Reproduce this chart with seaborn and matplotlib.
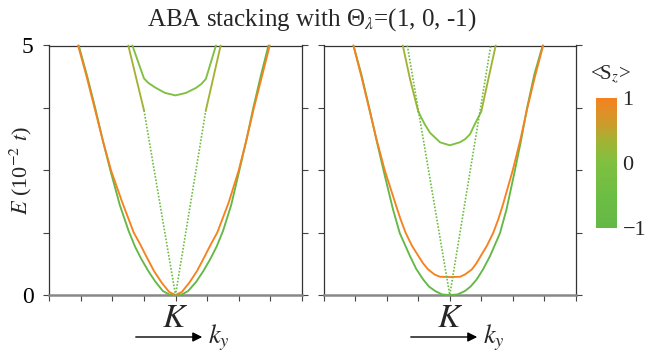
import numpy as np
import pandas as pd
import matplotlib
matplotlib.use("Agg")
import matplotlib.pyplot as plt
import seaborn as sns
from matplotlib.colors import LinearSegmentedColormap, Normalize
from matplotlib.cm import ScalarMappable

# ---- band data (k relative to K, E in 10^-2 t) ----
# left panel
a_green_k = [-0.765, -0.70, -0.635, -0.575, -0.515, -0.44, -0.37, -0.32, -0.27, -0.215, -0.16, -0.10, -0.05, 0.0,
             0.05, 0.10, 0.165, 0.22, 0.275, 0.325, 0.375, 0.44, 0.505, 0.56, 0.615, 0.675, 0.735]
a_green_E = [5.0, 4.4, 3.75, 3.1, 2.5, 1.8, 1.28, 0.97, 0.72, 0.48, 0.27, 0.08, 0.01, 0.0,
             0.01, 0.08, 0.27, 0.48, 0.72, 0.97, 1.28, 1.8, 2.5, 3.1, 3.75, 4.4, 5.0]
a_orange_k = [-0.77, -0.705, -0.64, -0.575, -0.51, -0.42, -0.33, -0.28, -0.23, -0.17, -0.11, -0.05, 0.0,
              0.05, 0.11, 0.17, 0.23, 0.28, 0.33, 0.42, 0.50, 0.56, 0.62, 0.685, 0.745]
a_orange_E = [5.0, 4.4, 3.75, 3.1, 2.5, 1.85, 1.25, 1.02, 0.77, 0.48, 0.25, 0.06, 0.0,
              0.06, 0.25, 0.48, 0.77, 1.02, 1.25, 1.85, 2.5, 3.1, 3.75, 4.4, 5.0]
a_dirac_k = [-0.249, 0.0, 0.239]
a_dirac_E = [3.70, 0.0, 3.69]
a_kinkL_k = [-0.373, -0.249]
a_kinkL_E = [5.0, 3.70]
a_kinkR_k = [0.239, 0.357]
a_kinkR_E = [3.69, 5.0]
a_arc_k = [-0.341, -0.249, -0.215, -0.162, -0.083, 0.0, 0.083, 0.162, 0.205, 0.24, 0.32]
a_arc_E = [5.0, 4.34, 4.25, 4.16, 4.05, 4.0, 4.05, 4.15, 4.23, 4.33, 5.0]

# right panel
b_green_k = [-0.763, -0.70, -0.635, -0.58, -0.52, -0.45, -0.396, -0.315, -0.265, -0.21, -0.165, -0.116, -0.06, 0.0,
             0.06, 0.121, 0.165, 0.213, 0.265, 0.319, 0.398, 0.45, 0.512, 0.565, 0.61, 0.67, 0.736]
b_green_E = [5.0, 4.42, 3.72, 3.1, 2.45, 1.72, 1.24, 0.78, 0.52, 0.31, 0.17, 0.08, 0.01, 0.0,
             0.01, 0.08, 0.17, 0.31, 0.52, 0.78, 1.24, 1.72, 2.45, 3.1, 3.72, 4.42, 5.0]
b_orange_k = [-0.763, -0.70, -0.64, -0.58, -0.515, -0.43, -0.39, -0.35, -0.30, -0.248, -0.21, -0.17, -0.12, -0.077, 0.0,
              0.081, 0.12, 0.174, 0.21, 0.245, 0.295, 0.345, 0.385, 0.42, 0.499, 0.56, 0.615, 0.675, 0.74]
b_orange_E = [5.0, 4.38, 3.75, 3.12, 2.5, 1.83, 1.52, 1.25, 0.99, 0.78, 0.63, 0.51, 0.41, 0.365, 0.36,
              0.365, 0.41, 0.51, 0.63, 0.78, 0.99, 1.25, 1.52, 1.8, 2.5, 3.12, 3.75, 4.38, 5.0]
b_dirac_k = [-0.336, 0.0, 0.325]
b_dirac_E = [5.0, 0.0, 5.0]
b_cup_k = [-0.25, -0.2, -0.156, -0.077, 0.0, 0.08, 0.12, 0.16, 0.2, 0.25]
b_cup_E = [3.68, 3.43, 3.25, 3.06, 3.0, 3.06, 3.12, 3.22, 3.43, 3.68]
b_upL_k = [-0.372, -0.314, -0.25]
b_upL_E = [5.0, 4.32, 3.68]
b_upR_k = [0.25, 0.293, 0.364]
b_upR_E = [3.68, 4.18, 5.0]

# <Sz> of each band
sz_green, sz_orange, sz_dirac, sz_arc, sz_mix = -1.0, 1.0, -0.5, 0.0, 0.35


def band(panel, name, k, E, sz, kind="solid"):
    return pd.DataFrame(dict(panel=panel, band=name, k=k, E=E, sz=sz, kind=kind))


df = pd.concat([
    band("a", "green", a_green_k, a_green_E, sz_green),
    band("a", "orange", a_orange_k, a_orange_E, sz_orange),
    band("a", "dirac", a_dirac_k, a_dirac_E, sz_dirac, "dot"),
    band("a", "kinkL", a_kinkL_k, a_kinkL_E, sz_mix),
    band("a", "kinkR", a_kinkR_k, a_kinkR_E, sz_mix),
    band("a", "arc", a_arc_k, a_arc_E, sz_arc),
    band("b", "green", b_green_k, b_green_E, sz_green),
    band("b", "orange", b_orange_k, b_orange_E, sz_orange),
    band("b", "dirac", b_dirac_k, b_dirac_E, sz_dirac, "dot"),
    band("b", "cup", b_cup_k, b_cup_E, sz_arc),
    band("b", "upL", b_upL_k, b_upL_E, sz_mix),
    band("b", "upR", b_upR_k, b_upR_E, sz_mix),
], ignore_index=True)

cmap = LinearSegmentedColormap.from_list("sz", [
    (0.0, "#63b846"), (0.25, "#6dbd44"), (0.5, "#7fc040"),
    (0.68, "#a5b234"), (0.8, "#cc9b2b"), (1.0, "#f5821f")])

sns.set_theme(style="ticks")
plt.rcParams["font.family"] = ["Liberation Serif", "DejaVu Serif"]
plt.rcParams["mathtext.fontset"] = "stix"

fig = plt.figure(figsize=(6.48, 3.56), dpi=100)
ax_a = fig.add_axes([49 / 648, 1 - 295 / 356, 253 / 648, 249.5 / 356])
ax_b = fig.add_axes([323.5 / 648, 1 - 295 / 356, 252.5 / 648, 249.5 / 356])

for ax, p in [(ax_a, "a"), (ax_b, "b")]:
    sub = df[df.panel == p]
    sns.lineplot(data=sub[sub.kind == "solid"], x="k", y="E", hue="sz", palette=cmap,
                 hue_norm=(-1, 1), units="band", estimator=None, sort=False,
                 legend=False, lw=1.35, ax=ax, clip_on=False, zorder=3)
    sns.lineplot(data=sub[sub.kind == "dot"], x="k", y="E", hue="sz", palette=cmap,
                 hue_norm=(-1, 1), units="band", estimator=None, sort=False,
                 legend=False, lw=1.2, ax=ax, clip_on=False, zorder=3, dashes=(1, 1))
    ax.set_xlim(-1, 1)
    ax.set_ylim(0, 5)
    ax.set_xticks(np.arange(-1, 1.01, 0.25))
    ax.set_xticklabels([])
    ax.set_yticks([0, 1.25, 2.5, 3.75, 5])
    ax.set_xlabel("")
    ax.set_ylabel("")
    ax.tick_params(direction="out", length=4, width=0.8, right=True, colors="#444444")
    for s in ["left", "right", "top"]:
        ax.spines[s].set_color("#333333")
        ax.spines[s].set_linewidth(0.9)
    ax.spines["bottom"].set_color("#888888")
    ax.spines["bottom"].set_linewidth(1.8)
    fig.text((ax.get_position().x0 + ax.get_position().x1) / 2, 1 - 327 / 356, "$K$",
             ha="center", va="baseline", fontsize=24)

ax_a.set_yticklabels(["0", "", "", "", "5"], fontsize=17)
ax_a.tick_params(axis="y", labelcolor="black", pad=7)
ax_b.set_yticklabels([])
ax_a.set_ylabel("$E$ (10$^{-2}$ $t$)", fontsize=16, labelpad=-9)

for x0 in [133, 408]:
    fig.add_artist(matplotlib.patches.FancyArrowPatch(
        (x0 / 648, 1 - 337 / 356), ((x0 + 72) / 648, 1 - 337 / 356),
        transform=fig.transFigure, arrowstyle="-|>", mutation_scale=14, lw=1.0, color="black"))
    fig.text((x0 + 75) / 648, 1 - 343 / 356, "$k_y$", fontsize=19, va="baseline")

fig.text(312 / 648, 1 - 26 / 356, "ABA stacking with \u0398$_\\lambda$=(1, 0, -1)",
         ha="center", va="baseline", fontsize=18)

cax = fig.add_axes([596 / 648, 1 - 228 / 356, 21 / 648, 130 / 356])
cb = fig.colorbar(ScalarMappable(norm=Normalize(-1, 1), cmap=cmap), cax=cax)
cb.outline.set_visible(False)
cb.set_ticks([-1, 0, 1])
cb.set_ticklabels(["\u22121", "0", "1"])
cax.tick_params(length=0, labelsize=16, pad=4)
fig.text(611 / 648, 1 - 80 / 356, "<S$_z$>", ha="center", va="baseline", fontsize=15)

fig.savefig("out.png", dpi=100)
